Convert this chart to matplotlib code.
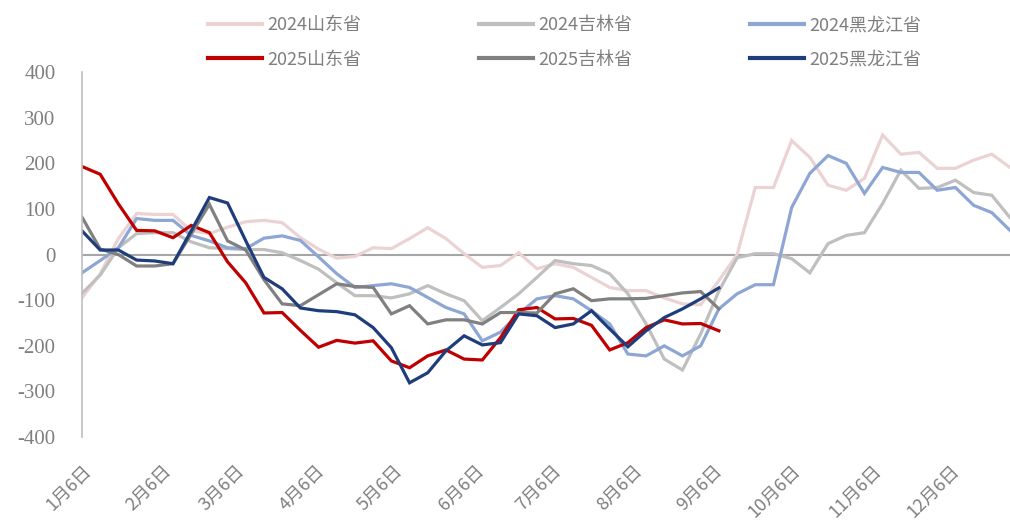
# -*- coding: utf-8 -*-
import pandas as pd
import matplotlib
matplotlib.use('Agg')
import matplotlib.pyplot as plt

########  DATA  ########

start_date = '2025-01-06'
n_weeks = 52

sd_2024 = [-95, -42, 35, 90, 88, 88, 52, 46, 60, 72, 75, 70, 37, 12, -8, -4, 15, 13, 35, 59,
           35, 2, -28, -24, 4, -31, -20, -28, -50, -72, -79, -79, -95, -108, -110, -57, 0, 147,
           147, 250, 213, 152, 141, 167, 262, 220, 224, 189, 189, 207, 220, 191]
jl_2024 = [-85, -45, 15, 46, 48, 48, 28, 15, 13, 11, 11, 4, -13, -32, -62, -90, -90, -95, -86, -68,
           -86, -101, -145, -116, -86, -50, -13, -20, -24, -42, -86, -152, -229, -253, -174, -80, -7, 2,
           2, -9, -40, 24, 42, 48, 112, 185, 145, 147, 163, 136, 130, 81]
hlj_2024 = [-40, -13, 15, 79, 75, 75, 42, 30, 15, 13, 36, 41, 31, -5, -42, -72, -68, -64, -72, -94,
            -116, -130, -189, -170, -130, -97, -90, -97, -123, -152, -218, -222, -200, -222, -200, -119, -86, -66,
            -66, 103, 178, 217, 200, 134, 191, 180, 180, 141, 147, 108, 92, 53]

sd_2025 = [193, 176, 111, 53, 52, 37, 64, 48, -16, -62, -128, -127, -166, -203, -188, -194, -189, -233,
           -248, -222, -209, -229, -231, -182, -121, -116, -141, -140, -155, -209, -193, -160, -143, -152,
           -151, -167]
jl_2025 = [82, 12, 0, -25, -25, -20, 45, 110, 30, 10, -55, -108, -112, -88, -64, -70, -72, -130,
           -112, -152, -143, -143, -152, -127, -127, -128, -86, -75, -101, -97, -97, -96, -90, -84,
           -81, -119]
hlj_2025 = [52, 10, 10, -12, -14, -20, 52, 125, 113, 30, -50, -75, -117, -123, -125, -132, -160, -204,
            -281, -259, -211, -178, -198, -193, -130, -134, -160, -152, -123, -163, -202, -167, -138, -119,
            -97, -73]

tick_months = list(range(1, 13))
tick_labels = [f'{m}月6日' for m in tick_months]

##########################

plt.rcParams['font.family'] = ['Noto Sans CJK SC', 'DejaVu Sans']

dates = pd.date_range(start_date, periods=n_weeks, freq='7D')

fig = plt.figure(figsize=(10.1, 5.26), dpi=100)
ax = fig.add_axes([0.0812, 0.169, 0.9188, 0.694])

series = [
    ('2024山东省', sd_2024, '#EBD3D3'),
    ('2024吉林省', jl_2024, '#BFBFBF'),
    ('2024黑龙江省', hlj_2024, '#8EA6D4'),
    ('2025山东省', sd_2025, '#C00000'),
    ('2025吉林省', jl_2025, '#808080'),
    ('2025黑龙江省', hlj_2025, '#1F3D7A'),
]

lines = {}
for name, vals, col in series:
    ln, = ax.plot(dates[:len(vals)], vals, color=col, lw=2.3, label=name, solid_joinstyle='miter')
    lines[name] = ln

ax.axhline(0, color='#A6A6A6', lw=1.5, zorder=0)

ax.set_xlim(dates[0], dates[-1])
ax.set_ylim(-400, 400)
ax.set_yticks(range(-400, 401, 100))
ax.set_yticklabels([str(v) for v in range(-400, 401, 100)],
                   family=['Liberation Serif', 'Noto Sans CJK SC'])

tick_dates = [pd.Timestamp(2025, m, 6) for m in tick_months]
ax.set_xticks(tick_dates)
ax.set_xticklabels(tick_labels, rotation=45, ha='right', va='top', rotation_mode='anchor')

ax.tick_params(axis='y', length=0, pad=19, labelsize=15, labelcolor='#7F7F7F')
ax.tick_params(axis='x', length=0, pad=18, labelsize=13, labelcolor='#7F7F7F')

for side in ['top', 'right', 'bottom']:
    ax.spines[side].set_visible(False)
ax.spines['left'].set_color('#BFBFBF')
ax.spines['left'].set_linewidth(1.2)

# legend: filled column-wise, so pair 2024/2025 per column
order = ['2024山东省', '2025山东省', '2024吉林省', '2025吉林省', '2024黑龙江省', '2025黑龙江省']
leg = fig.legend([lines[k] for k in order], order, loc='upper left', bbox_to_anchor=(0.19, 1.0),
                 ncol=3, frameon=False, fontsize=13, handlelength=3.0, handletextpad=0.3,
                 columnspacing=6.5, labelspacing=0.9)
for t in leg.get_texts():
    t.set_color('#7F7F7F')
for h in leg.legend_handles:
    h.set_linewidth(3)

fig.savefig('out.png', dpi=100)
